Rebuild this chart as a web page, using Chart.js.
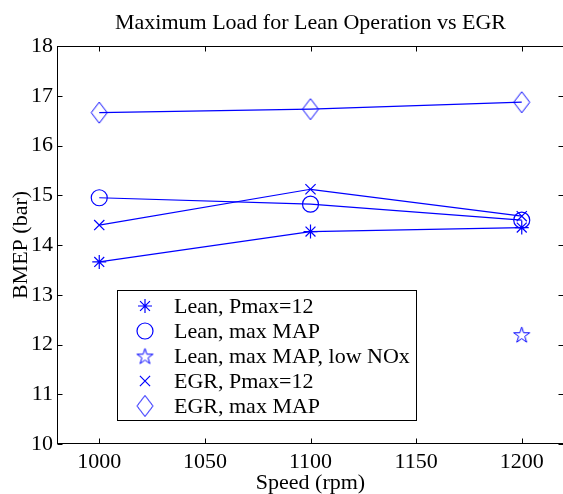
<!DOCTYPE html>
<html>
<head>
<meta charset="utf-8">
<title>Maximum Load for Lean Operation vs EGR</title>
<script src="https://cdn.jsdelivr.net/npm/chart.js@4/dist/chart.umd.min.js"></script>
<style>
    html, body { margin: 0; padding: 0; background: #fff; overflow: hidden; }
    #wrap { position: relative; width: 575px; height: 494px; }
</style>
</head>
<body>
<div id="wrap"><canvas id="chart"></canvas></div>
<script>
/* ==========================================================
   DATA
========================================================== */

const speeds      = [1000, 1100, 1200];
const leanPmax12  = [13.66, 14.27, 14.35];
const leanMaxMap  = [14.95, 14.82, 14.50];
const leanLowNox  = [null, null, 12.20];
const egrPmax12   = [14.40, 15.12, 14.58];
const egrMaxMap   = [16.66, 16.73, 16.87];

const xTicks = [1000, 1050, 1100, 1150, 1200];
const yTicks = [10, 11, 12, 13, 14, 15, 16, 17, 18];

const TITLE  = "Maximum Load for Lean Operation vs EGR";
const XTITLE = "Speed (rpm)";
const YTITLE = "BMEP (bar)";

const BLUE = "#0000ff";
const FONT_FAMILY = "'Liberation Serif', 'Times New Roman', serif";
const FONT_SIZE = 22;

/* =====================================================
   MARKERS (pentagram + tall diamond, like matlab)
===================================================== */

function makePentagram(r) {
    const size = Math.ceil(r * 2 + 4);
    const c = document.createElement("canvas");
    c.width = c.height = size;
    const g = c.getContext("2d");
    const cx = size / 2, cy = size / 2 + r * 0.1;
    g.beginPath();
    for (let i = 0; i < 10; i++) {
        const rad = i % 2 === 0 ? r : r * 0.382;
        const a = -Math.PI / 2 + i * Math.PI / 5;
        const px = cx + rad * Math.cos(a), py = cy + rad * Math.sin(a);
        if (i === 0) g.moveTo(px, py); else g.lineTo(px, py);
    }
    g.closePath();
    g.strokeStyle = BLUE;
    g.lineWidth = 1;
    g.stroke();
    return c;
}

function makeDiamond(hw, hh) {
    const w = Math.ceil(hw * 2 + 4), h = Math.ceil(hh * 2 + 4);
    const c = document.createElement("canvas");
    c.width = w; c.height = h;
    const g = c.getContext("2d");
    const cx = w / 2, cy = h / 2;
    g.beginPath();
    g.moveTo(cx - hw, cy);
    g.lineTo(cx, cy - hh);
    g.lineTo(cx + hw, cy);
    g.lineTo(cx, cy + hh);
    g.closePath();
    g.strokeStyle = BLUE;
    g.lineWidth = 1;
    g.stroke();
    return c;
}

const starMarker = makePentagram(8.4);
const diamondMarker = makeDiamond(8, 10.5);

function toPoints(values) {
    const pts = [];
    values.forEach((v, i) => {
        if (v !== null) pts.push({ x: speeds[i], y: v });
    });
    return pts;
}

function series(label, values, pointStyle, radius) {
    return {
        label,
        data: toPoints(values),
        showLine: true,
        tension: 0,
        borderColor: BLUE,
        borderWidth: 1.2,
        pointStyle,
        pointRadius: radius,
        pointHoverRadius: radius,
        pointBorderColor: BLUE,
        pointBackgroundColor: "rgba(0,0,0,0)",
        pointBorderWidth: 1.2
    };
}

const datasets = [
    series("Lean, Pmax=12", leanPmax12, "star", 7),
    series("Lean, max MAP", leanMaxMap, "circle", 8),
    series("Lean, max MAP, low NOx", leanLowNox, starMarker, 8),
    series("EGR, Pmax=12", egrPmax12, "crossRot", 7.2),
    series("EGR, max MAP", egrMaxMap, diamondMarker, 8)
];

/* =====================================================
   FRAME, INWARD TICKS, TITLES, LEGEND
===================================================== */

const matlabFrame = {
    id: "matlabFrame",
    afterDraw(chart) {
        const { ctx, chartArea: a, scales: { x, y } } = chart;
        const font = `${FONT_SIZE}px ${FONT_FAMILY}`;
        const L = Math.round(a.left) + 0.5, R = Math.round(a.right) - 0.5;
        const T = Math.round(a.top) + 0.5, B = Math.round(a.bottom) - 0.5;

        ctx.save();
        ctx.strokeStyle = "#000";
        ctx.lineWidth = 1;
        ctx.strokeRect(L, T, R - L, B - T);

        ctx.beginPath();
        xTicks.forEach(v => {
            const px = Math.round(x.getPixelForValue(v)) + 0.5;
            ctx.moveTo(px, B); ctx.lineTo(px, B - 5);
            ctx.moveTo(px, T); ctx.lineTo(px, T + 5);
        });
        yTicks.forEach(v => {
            const py = Math.round(y.getPixelForValue(v)) + 0.5;
            ctx.moveTo(L, py); ctx.lineTo(L + 5, py);
            ctx.moveTo(R, py); ctx.lineTo(R - 5, py);
        });
        ctx.stroke();

        // titles
        ctx.fillStyle = "#000";
        ctx.font = font;
        ctx.textAlign = "center";
        ctx.textBaseline = "alphabetic";
        ctx.fillText(TITLE, (a.left + a.right) / 2, 29);
        ctx.fillText(XTITLE, (a.left + a.right) / 2, 489);

        ctx.save();
        ctx.translate(27, (a.top + a.bottom) / 2);
        ctx.rotate(-Math.PI / 2);
        ctx.fillText(YTITLE, 0, 0);
        ctx.restore();

        // legend box
        const boxL = 117, boxT = 290, rowH = 25, markerX = 145, textX = 174;
        let maxW = 0;
        chart.data.datasets.forEach(ds => {
            maxW = Math.max(maxW, ctx.measureText(ds.label).width);
        });
        const boxR = Math.round(textX + maxW + 6);
        const boxB = boxT + rowH * chart.data.datasets.length + 5;

        ctx.fillStyle = "#fff";
        ctx.fillRect(boxL, boxT, boxR - boxL, boxB - boxT);
        ctx.strokeStyle = "#000";
        ctx.strokeRect(boxL + 0.5, boxT + 0.5, boxR - boxL, boxB - boxT);

        chart.data.datasets.forEach((ds, i) => {
            const cy = boxT + 16 + i * rowH;
            ctx.strokeStyle = BLUE;
            ctx.fillStyle = "rgba(0,0,0,0)";
            ctx.lineWidth = 1.2;
            Chart.helpers.drawPoint(ctx, {
                pointStyle: ds.pointStyle,
                radius: ds.pointRadius,
                rotation: 0,
                borderWidth: 1.2
            }, markerX, cy);

            ctx.fillStyle = "#000";
            ctx.textAlign = "left";
            ctx.textBaseline = "middle";
            ctx.fillText(ds.label, textX, cy + 1);
        });

        ctx.restore();
    }
};

/* =====================================================
   CHART
===================================================== */

const tickFont = { family: FONT_FAMILY, size: FONT_SIZE };

new Chart(document.getElementById("chart").getContext("2d"), {
    type: "scatter",
    data: { datasets },
    options: {
        responsive: true,
        maintainAspectRatio: false,
        animation: false,
        layout: { padding: { top: 46, right: 11, left: 0, bottom: 0 } },
        plugins: {
            legend: { display: false },
            title: { display: false },
            tooltip: { enabled: false }
        },
        scales: {
            x: {
                type: "linear",
                min: 980,
                max: 1220,
                afterBuildTicks: s => { s.ticks = xTicks.map(v => ({ value: v })); },
                afterFit: s => { s.height = 50; },
                grid: { display: false, drawTicks: false },
                border: { display: false },
                ticks: {
                    font: tickFont,
                    color: "#000",
                    padding: 5,
                    autoSkip: false,
                    maxRotation: 0,
                    callback: v => String(v)
                }
            },
            y: {
                type: "linear",
                min: 10,
                max: 18,
                afterBuildTicks: s => { s.ticks = yTicks.map(v => ({ value: v })); },
                afterFit: s => { s.width = 57; },
                grid: { display: false, drawTicks: false },
                border: { display: false },
                ticks: {
                    font: tickFont,
                    color: "#000",
                    padding: 4,
                    callback: v => String(v)
                }
            }
        }
    },
    plugins: [matlabFrame]
});
</script>
</body>
</html>
